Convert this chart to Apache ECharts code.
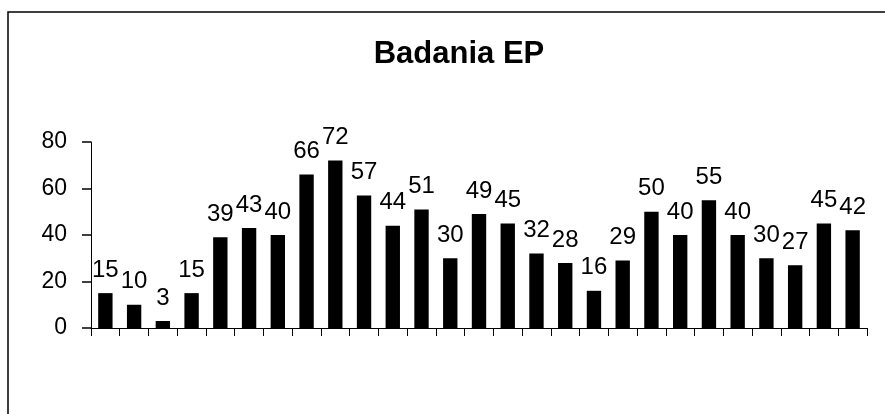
<!DOCTYPE html>
<html>
<head>
<meta charset="utf-8">
<script src="https://cdn.jsdelivr.net/npm/echarts@6/dist/echarts.min.js"></script>
<style>
  html, body { margin: 0; padding: 0; background: #fff; }
  #chart { width: 885px; height: 414px; }
</style>
</head>
<body>
<div id="chart"></div>
<script>
const categories = ["1", "2", "3", "4", "5", "6", "7", "8", "9", "10", "11", "12", "13", "14",
  "15", "16", "17", "18", "19", "20", "21", "22", "23", "24", "25", "26", "27"];
const values = [15, 10, 3, 15, 39, 43, 40, 66, 72, 57, 44, 51, 30, 49, 45, 32, 28, 16, 29, 50, 40, 55, 40, 30, 27, 45, 42];
const yTicks = [0, 20, 40, 60, 80];

const chart = echarts.init(document.getElementById("chart"));

const font = "Arial, 'Liberation Sans', sans-serif";

chart.setOption({
  animation: false,
  backgroundColor: "#fff",
  title: {
    text: "Badania EP",
    left: 454,
    top: 34,
    textAlign: "center",
    textStyle: { fontFamily: font, fontSize: 31, fontWeight: "bold", color: "#000" },
  },
  graphic: [
    {
      type: "rect",
      shape: { x: 8, y: 12, width: 900, height: 430 },
      style: { fill: "none", stroke: "#000", lineWidth: 1.5 },
    },
  ],
  grid: { left: 91, right: 18, top: 142, bottom: 86 },
  xAxis: {
    type: "category",
    data: categories,
    axisLine: { show: true, lineStyle: { color: "#000", width: 1 } },
    axisTick: { show: true, inside: false, length: 8, interval: 0, lineStyle: { color: "#000", width: 1 } },
    axisLabel: { show: false },
  },
  yAxis: {
    type: "value",
    min: yTicks[0],
    max: yTicks[yTicks.length - 1],
    interval: 20,
    splitLine: { show: false },
    axisLine: { show: true, lineStyle: { color: "#000", width: 1 } },
    axisTick: { show: true, inside: false, length: 9, lineStyle: { color: "#000", width: 1.5 } },
    axisLabel: { margin: 24, fontFamily: font, fontSize: 23, color: "#000" },
  },
  series: [
    {
      type: "bar",
      data: values,
      barWidth: "50%",
      itemStyle: { color: "#000" },
      label: {
        show: true,
        position: "top",
        distance: 11,
        fontFamily: font,
        fontSize: 24,
        color: "#000",
      },
    },
  ],
});
</script>
</body>
</html>
